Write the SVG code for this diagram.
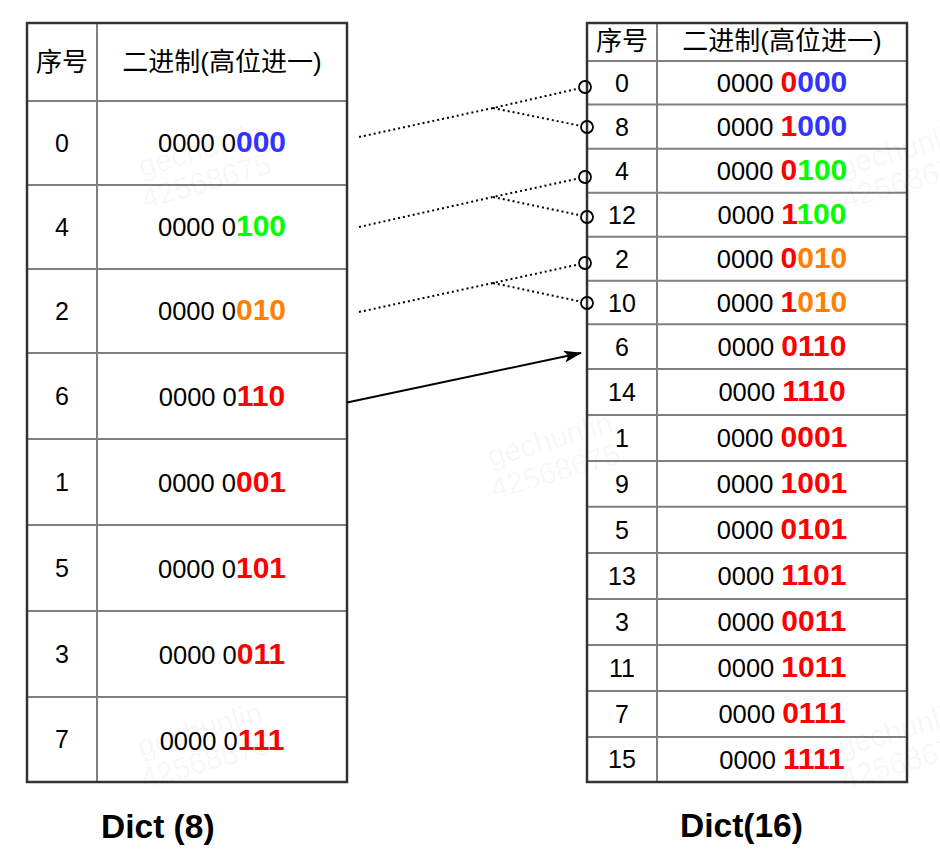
<svg xmlns="http://www.w3.org/2000/svg" width="940" height="858" viewBox="0 0 940 858">
<style>
  text { font-family: "Liberation Sans", "Noto Sans CJK SC", sans-serif; fill: #000; }
  .hdr { font-size: 26px; text-anchor: middle; font-family: "Liberation Sans", "Noto Sans CJK SC", sans-serif; }
  .idx { font-size: 25px; text-anchor: middle; }
  .bin { font-size: 25.5px; text-anchor: middle; }
  .b { font-size: 30px; font-weight: bold; }
  .blue { fill: #3333FF; }
  .green { fill: #00FF00; }
  .orange { fill: #FF8000; }
  .red { fill: #FF0000; }
  .outer { fill: none; stroke: #333333; stroke-width: 2.5; }
  .inner { stroke: #808080; stroke-width: 2; fill: none; }
  .dot { fill: none; stroke: #000; stroke-width: 2; stroke-dasharray: 2 3; }
  .ring { fill: none; stroke: #000; stroke-width: 1.8; }
  .title { font-size: 33.5px; font-weight: bold; text-anchor: start; }
  .wm { font-size: 30px; fill: #000; fill-opacity: 0.045; }
</style>
<defs>
  <marker id="arrow" markerUnits="userSpaceOnUse" viewBox="0 0 18 12" refX="17" refY="6" markerWidth="18" markerHeight="12" orient="auto">
    <path d="M0,0 L18,6 L0,12 L4,6 Z" fill="#000"/>
  </marker>
</defs>
<rect width="940" height="858" fill="#ffffff"/>

<g id="dict8">
  <g class="inner">
    <line x1="97" y1="23" x2="97" y2="782"/>
    <line x1="27" y1="101" x2="347" y2="101"/>
    <line x1="27" y1="185" x2="347" y2="185"/>
    <line x1="27" y1="269" x2="347" y2="269"/>
    <line x1="27" y1="353" x2="347" y2="353"/>
    <line x1="27" y1="439" x2="347" y2="439"/>
    <line x1="27" y1="525" x2="347" y2="525"/>
    <line x1="27" y1="611" x2="347" y2="611"/>
    <line x1="27" y1="697" x2="347" y2="697"/>
  </g>
  <rect class="outer" x="27" y="23" width="320" height="759"/>
  <text class="hdr" x="62" y="71">序号</text>
  <text class="hdr" x="222" y="71">二进制(高位进一)</text>
  <text class="idx" x="62" y="152">0</text>
  <text class="bin" x="222" y="152">0000 0<tspan class="b blue">000</tspan></text>
  <text class="idx" x="62" y="236">4</text>
  <text class="bin" x="222" y="236">0000 0<tspan class="b green">100</tspan></text>
  <text class="idx" x="62" y="320">2</text>
  <text class="bin" x="222" y="320">0000 0<tspan class="b orange">010</tspan></text>
  <text class="idx" x="62" y="405">6</text>
  <text class="bin" x="222" y="406">0000 0<tspan class="b red">110</tspan></text>
  <text class="idx" x="62" y="491">1</text>
  <text class="bin" x="222" y="492">0000 0<tspan class="b red">001</tspan></text>
  <text class="idx" x="62" y="577">5</text>
  <text class="bin" x="222" y="578">0000 0<tspan class="b red">101</tspan></text>
  <text class="idx" x="62" y="663">3</text>
  <text class="bin" x="222" y="664">0000 0<tspan class="b red">011</tspan></text>
  <text class="idx" x="62" y="748">7</text>
  <text class="bin" x="222" y="750">0000 0<tspan class="b red">111</tspan></text>
</g>

<g id="dict16">
  <g class="inner">
    <line x1="657" y1="23" x2="657" y2="782"/>
    <line x1="587" y1="61" x2="907" y2="61"/>
    <line x1="587" y1="104.5" x2="907" y2="104.5"/>
    <line x1="587" y1="148.7" x2="907" y2="148.7"/>
    <line x1="587" y1="192.7" x2="907" y2="192.7"/>
    <line x1="587" y1="236.7" x2="907" y2="236.7"/>
    <line x1="587" y1="280.7" x2="907" y2="280.7"/>
    <line x1="587" y1="324.3" x2="907" y2="324.3"/>
    <line x1="587" y1="369" x2="907" y2="369"/>
    <line x1="587" y1="415" x2="907" y2="415"/>
    <line x1="587" y1="461" x2="907" y2="461"/>
    <line x1="587" y1="506.7" x2="907" y2="506.7"/>
    <line x1="587" y1="553" x2="907" y2="553"/>
    <line x1="587" y1="599" x2="907" y2="599"/>
    <line x1="587" y1="645" x2="907" y2="645"/>
    <line x1="587" y1="691" x2="907" y2="691"/>
    <line x1="587" y1="737" x2="907" y2="737"/>
  </g>
  <rect class="outer" x="587" y="23" width="320" height="759"/>
  <text class="hdr" x="622" y="50">序号</text>
  <text class="hdr" x="782" y="50">二进制(高位进一)</text>
  <text class="idx" x="622" y="91.5">0</text>
  <text class="bin" x="782" y="91.5">0000 <tspan class="b red">0</tspan><tspan class="b blue">000</tspan></text>
  <text class="idx" x="622" y="135.5">8</text>
  <text class="bin" x="782" y="135.5">0000 <tspan class="b red">1</tspan><tspan class="b blue">000</tspan></text>
  <text class="idx" x="622" y="179.5">4</text>
  <text class="bin" x="782" y="179.5">0000 <tspan class="b red">0</tspan><tspan class="b green">100</tspan></text>
  <text class="idx" x="622" y="223.5">12</text>
  <text class="bin" x="782" y="223.5">0000 <tspan class="b red">1</tspan><tspan class="b green">100</tspan></text>
  <text class="idx" x="622" y="267.5">2</text>
  <text class="bin" x="782" y="267.5">0000 <tspan class="b red">0</tspan><tspan class="b orange">010</tspan></text>
  <text class="idx" x="622" y="311.5">10</text>
  <text class="bin" x="782" y="311.5">0000 <tspan class="b red">1</tspan><tspan class="b orange">010</tspan></text>
  <text class="idx" x="622" y="355.5">6</text>
  <text class="bin" x="782" y="355.5">0000 <tspan class="b red">0110</tspan></text>
  <text class="idx" x="622" y="400.5">14</text>
  <text class="bin" x="782" y="401">0000 <tspan class="b red">1110</tspan></text>
  <text class="idx" x="622" y="446.5">1</text>
  <text class="bin" x="782" y="447">0000 <tspan class="b red">0001</tspan></text>
  <text class="idx" x="622" y="492.5">9</text>
  <text class="bin" x="782" y="493">0000 <tspan class="b red">1001</tspan></text>
  <text class="idx" x="622" y="538.5">5</text>
  <text class="bin" x="782" y="539">0000 <tspan class="b red">0101</tspan></text>
  <text class="idx" x="622" y="584.5">13</text>
  <text class="bin" x="782" y="585">0000 <tspan class="b red">1101</tspan></text>
  <text class="idx" x="622" y="630.5">3</text>
  <text class="bin" x="782" y="631">0000 <tspan class="b red">0011</tspan></text>
  <text class="idx" x="622" y="676.5">11</text>
  <text class="bin" x="782" y="677">0000 <tspan class="b red">1011</tspan></text>
  <text class="idx" x="622" y="722.5">7</text>
  <text class="bin" x="782" y="723">0000 <tspan class="b red">0111</tspan></text>
  <text class="idx" x="622" y="768">15</text>
  <text class="bin" x="782" y="769">0000 <tspan class="b red">1111</tspan></text>
</g>

<g id="connectors">
  <polyline class="dot" points="359,137 493,108 579.2,88.4"/>
  <polyline class="dot" points="493,108 580.8,125.9"/>
  <polyline class="dot" points="359,227 493,197 579.2,178.3"/>
  <polyline class="dot" points="493,197 580.8,215.4"/>
  <polyline class="dot" points="359,312 493,283 579.2,264.3"/>
  <polyline class="dot" points="493,283 580.8,301.6"/>
  <circle class="ring" cx="585" cy="87" r="6"/>
  <circle class="ring" cx="587" cy="127" r="6"/>
  <circle class="ring" cx="585" cy="177" r="6"/>
  <circle class="ring" cx="587" cy="217" r="6"/>
  <circle class="ring" cx="585" cy="263" r="6"/>
  <circle class="ring" cx="587" cy="303" r="6"/>
  <line x1="347" y1="402.5" x2="581" y2="353" stroke="#000" stroke-width="2" marker-end="url(#arrow)"/>
</g>

<g id="labels">
  <text class="title" x="101" y="838">Dict (8)</text>
  <text class="title" x="680" y="837">Dict(16)</text>
</g>

<g id="watermarks">
  <g transform="translate(142,177) rotate(-16)"><text class="wm" x="0" y="0">gechunlin</text><text class="wm" x="-6" y="32">42568675</text></g>
  <g transform="translate(491,467) rotate(-16)"><text class="wm" x="0" y="0">gechunlin</text><text class="wm" x="-6" y="32">42568675</text></g>
  <g transform="translate(141,757) rotate(-16)"><text class="wm" x="0" y="0">gechunlin</text><text class="wm" x="-6" y="32">42568675</text></g>
  <g transform="translate(842,177) rotate(-16)"><text class="wm" x="0" y="0">gechunlin</text><text class="wm" x="-6" y="32">42568675</text></g>
  <g transform="translate(841,757) rotate(-16)"><text class="wm" x="0" y="0">gechunlin</text><text class="wm" x="-6" y="32">42568675</text></g>
</g>
</svg>
